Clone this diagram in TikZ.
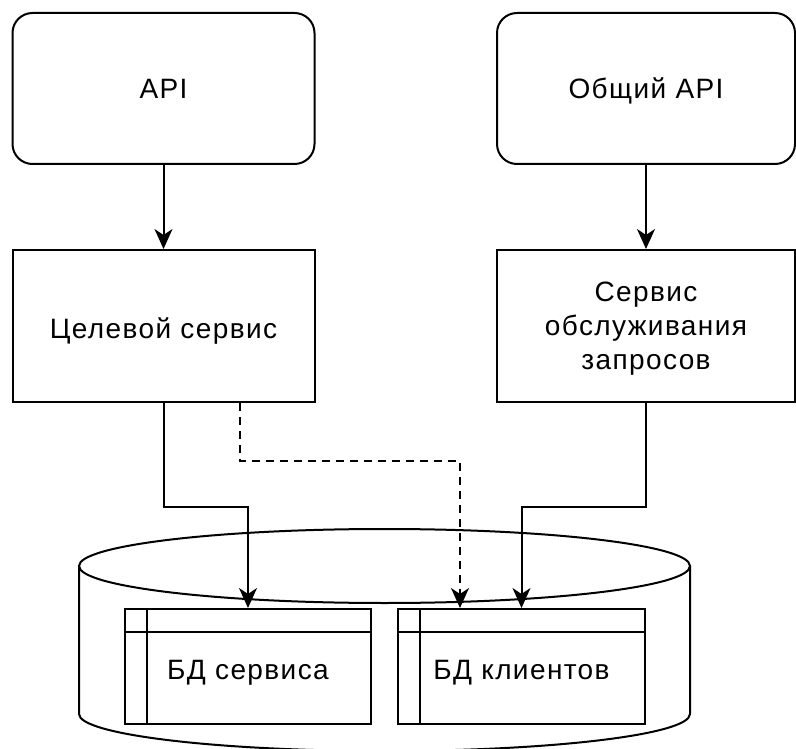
\documentclass[tikz,border=0pt]{standalone}
\usepackage{fontspec}
\setmainfont{Liberation Sans}[LetterSpace=5]
\usetikzlibrary{arrows.meta,positioning,calc}
\tikzset{
  api/.style={draw, rounded corners=20pt, minimum width=302pt, minimum height=151pt}, % entry points
  service/.style={draw, minimum width=302pt, minimum height=152pt, align=center}, % services
  dbtable/.style={draw, minimum width=246pt, minimum height=115pt}, % tables inside the storage
  flow/.style={-{Stealth[length=20pt,width=18pt,inset=6pt]}},
  weak/.style={flow, dashed, dash pattern=on 8pt off 6pt},
  label/.style={text centered, anchor=base}
}

\begin{document}
\begin{tikzpicture}[x=1pt, y=-1pt, line width=2pt,
    font=\fontsize{28pt}{34pt}\selectfont]

    \fill[white] (0,0) rectangle (796,749);
    \useasboundingbox (0,0) rectangle (796,749);

    % API layer
    \node[api] (api) at (163.5,88.5) {};
    \node[api, minimum width=298pt] (gapi) at (646,88.5) {};
    \node[label] at ([yshift=-10.5pt]api.center) {API};
    \node[label] at ([yshift=-10.5pt]gapi.center) {Общий API};

    % Services
    \node[service] (tgt) at (163.5,326) {};
    \node[service, minimum width=298pt] (srv) at (646,326) {};
    \node[label] at ([yshift=-12pt]tgt.center) {Целевой сервис};
    \node[label, anchor=center, align=center] at ([yshift=-3pt]srv.center) {Сервис\\обслуживания\\запросов};

    % Storage cylinder
    \draw (384.5,566) ellipse (305.5pt and 37pt);
    \draw (79,566) -- (79,714)
        arc[start angle=180, end angle=360, x radius=305.5pt, y radius=37pt]
        -- (690,566);

    % Tables
    \node[dbtable] (svcdb) at (248,666.5) {};
    \node[dbtable, minimum width=247pt] (clidb) at (521.5,666.5) {};
    \foreach \t in {svcdb, clidb} {
        \draw ([yshift=-24pt]\t.north west) -- ([yshift=-24pt]\t.north east);
        \draw ([xshift=23pt]\t.north west) -- ([xshift=23pt]\t.south west);
    }
    \node[label] at ([yshift=-12.5pt]svcdb.center) {БД сервиса};
    \node[label] at ([yshift=-12.5pt]clidb.center) {БД клиентов};

    % Requests
    \draw[flow] (api) -- (tgt);
    \draw[flow] (gapi) -- (srv);

    % Writes to the tables
    \draw[flow] (tgt.south) -- ++(0,104) -| (svcdb.north);
    \draw[weak] ([xshift=76pt]tgt.south) -- ++(0,58) -| ([xshift=-61.5pt]clidb.north);
    \draw[flow] (srv.south) -- ++(0,104) -| (clidb.north);
\end{tikzpicture}
\end{document}
